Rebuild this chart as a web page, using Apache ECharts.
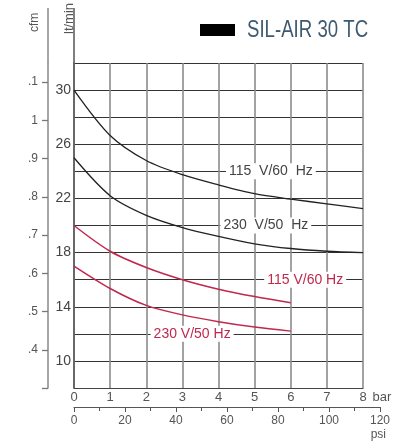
<!DOCTYPE html>
<html>
<head>
<meta charset="utf-8">
<script src="https://cdn.jsdelivr.net/npm/echarts@6/dist/echarts.min.js"></script>
<style>
html, body { margin: 0; padding: 0; background: #fff; }
#chart-box { width: 399px; height: 441px; }
</style>
</head>
<body>
<div id="chart-box"></div>
<script>
// pressure in bar, flow in lt/min
var pressureBar = [0, 1, 2, 3, 4, 5, 6, 7, 8];
var black115 = [30, 26.65, 24.8, 23.75, 23.0, 22.35, 21.95, 21.6, 21.25];
var black230 = [25.0, 22.2, 20.75, 19.85, 19.2, 18.65, 18.3, 18.1, 18.0];
var red115 = [20.0, 18.1, 16.9, 16.0, 15.3, 14.75, 14.3];
var red230 = [17.0, 15.35, 14.1, 13.4, 12.9, 12.5, 12.2];

var cfmLabels = ['', '.4', '.5', '.6', '.7', '.8', '.9', '1', '.1'];
var lminLabels = [10, 14, 18, 22, 26, 30];

var FONT = 'Liberation Sans';
var RED = '#c0284e';

function pairs(ys) {
    var out = [];
    for (var i = 0; i < ys.length; i++) out.push([pressureBar[i], ys[i]]);
    return out;
}

function curveLabel(text, coord, color, size) {
    return {
        symbol: 'circle',
        symbolSize: 1,
        silent: true,
        itemStyle: { color: 'rgba(0,0,0,0)' },
        label: {
            show: true,
            position: 'inside',
            formatter: text,
            color: color,
            fontSize: size,
            fontFamily: FONT,
            backgroundColor: '#fff',
            padding: [1, 3]
        },
        data: [{ coord: coord }]
    };
}

function lineSeries(name, ys, color, width, mark) {
    return {
        name: name,
        type: 'line',
        xAxisIndex: 0,
        yAxisIndex: 0,
        data: pairs(ys),
        smooth: 0.3,
        showSymbol: false,
        lineStyle: { color: color, width: width },
        markPoint: mark,
        z: 3
    };
}

var myChart = echarts.init(document.getElementById('chart-box'));
var option = {
    backgroundColor: '#fff',
    animation: false,
    grid: [
        { left: 74, top: 63, right: 36, bottom: 53 },
        { left: 74, right: 19, top: 400, bottom: 34 }
    ],
    xAxis: [{
        gridIndex: 0,
        type: 'value',
        min: 0, max: 8, interval: 1,
        name: 'bar',
        nameLocation: 'end',
        nameGap: 1,
        nameTextStyle: { color: '#555', fontSize: 13, fontFamily: FONT, verticalAlign: 'top', padding: [3, 0, 0, 0] },
        axisLine: { show: true, lineStyle: { color: '#444', width: 1.2 } },
        axisTick: { show: false },
        axisLabel: { color: '#555', fontSize: 13, fontFamily: FONT, margin: 3 },
        splitLine: { show: true, lineStyle: { color: '#8c8c8c', width: 1.6 } }
    }, {
        gridIndex: 1,
        type: 'value',
        min: 0, max: 120, interval: 20,
        position: 'bottom',
        name: 'psi',
        nameLocation: 'end',
        nameGap: 6,
        nameTextStyle: { color: '#555', fontSize: 12, fontFamily: FONT, align: 'right', verticalAlign: 'top', padding: [22, 0, 0, 0] },
        axisLine: { show: true, lineStyle: { color: '#555', width: 1.2 } },
        axisTick: { show: true, length: 5, lineStyle: { color: '#555' } },
        minorTick: { show: true, splitNumber: 2, length: 4, lineStyle: { color: '#555' } },
        axisLabel: { color: '#555', fontSize: 12, fontFamily: FONT, margin: 8 },
        splitLine: { show: false }
    }],
    yAxis: [{
        gridIndex: 0,
        type: 'value',
        min: 8, max: 32, interval: 2,
        axisLine: { show: true, lineStyle: { color: '#555', width: 1.5 } },
        axisTick: { show: false },
        axisLabel: {
            color: '#444', fontSize: 14, fontFamily: FONT, margin: 3,
            formatter: function (v) { return lminLabels.indexOf(v) >= 0 ? String(v) : ''; }
        },
        splitLine: { show: true, lineStyle: { color: '#333', width: 1.2 } }
    }, {
        gridIndex: 0,
        type: 'value',
        min: 0.3, max: 1.15, interval: 0.1,
        position: 'left',
        offset: 26,
        axisLine: { show: true, onZero: false, lineStyle: { color: '#888', width: 1.5 } },
        axisTick: { show: true, inside: false, length: 6, lineStyle: { color: '#777', width: 1.3 } },
        axisLabel: {
            color: '#555', fontSize: 12, fontFamily: FONT, margin: 10,
            showMaxLabel: false,
            formatter: function (v) {
                var k = (v - 0.3) * 10;
                var i = Math.round(k);
                if (Math.abs(k - i) > 0.01) return '';
                return cfmLabels[i] || '';
            }
        },
        splitLine: { show: false }
    }, {
        gridIndex: 1,
        type: 'value',
        show: false
    }],
    series: [
        lineSeries('115 V/60 Hz black', black115, '#222', 1.3, curveLabel('115  V/60  Hz', [5.45, 24], '#444', 14)),
        lineSeries('230 V/50 Hz black', black230, '#222', 1.3, curveLabel('230  V/50  Hz', [5.31, 20], '#444', 14)),
        lineSeries('115 V/60 Hz red', red115, RED, 1.5, curveLabel('115 V/60 Hz', [6.4, 16], RED, 14)),
        lineSeries('230 V/50 Hz red', red230, RED, 1.5, curveLabel('230 V/50 Hz', [3.27, 12], RED, 14))
    ],
    graphic: [
        { type: 'line', shape: { x1: 48, y1: 8, x2: 48, y2: 63 }, style: { stroke: '#888', lineWidth: 1.5 } },
        { type: 'line', shape: { x1: 74, y1: 8, x2: 74, y2: 63 }, style: { stroke: '#555', lineWidth: 1.5 } },
        { type: 'text', x: 35, y: 32, rotation: Math.PI / 2,
          style: { text: 'cfm', fill: '#555', font: '12px ' + FONT, textAlign: 'left', textVerticalAlign: 'middle', verticalAlign: 'middle' } },
        { type: 'text', x: 69, y: 34, rotation: Math.PI / 2,
          style: { text: 'lt/min', fill: '#555', font: '13px ' + FONT, textAlign: 'left', textVerticalAlign: 'middle', verticalAlign: 'middle' } },
        { type: 'rect', shape: { x: 200, y: 24, width: 35, height: 12 }, style: { fill: '#000' } },
        { type: 'text', x: 247, y: 31, scaleX: 0.81,
          style: { text: 'SIL-AIR 30 TC', fill: '#3e5a70', font: '23px ' + FONT, textAlign: 'left', textVerticalAlign: 'middle', verticalAlign: 'middle' } }
    ]
};
myChart.setOption(option);
</script>
</body>
</html>
